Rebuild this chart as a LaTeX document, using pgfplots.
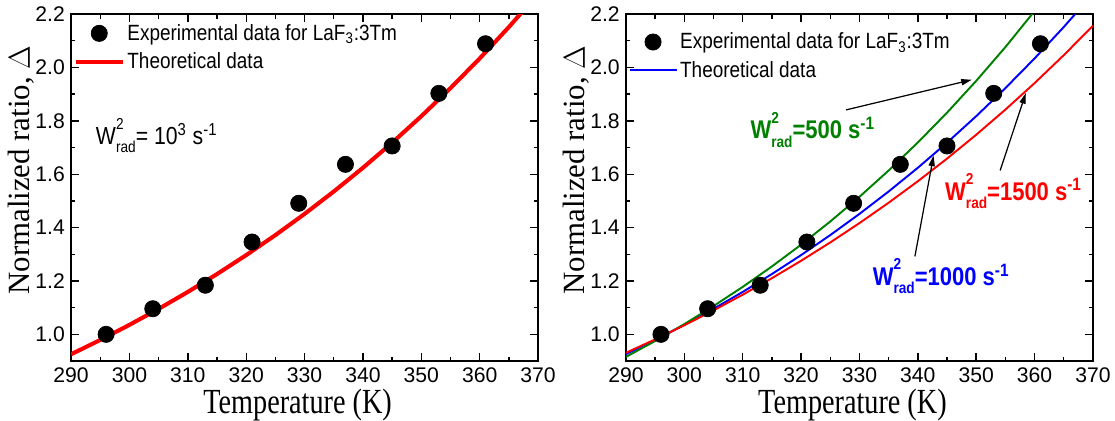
\documentclass[border=0pt]{standalone}
\usepackage{fontspec}
\setmainfont{Liberation Sans}
\newfontfamily\serif{Liberation Serif}
\newfontfamily\cond[FakeStretch=0.86]{Liberation Sans}
\usepackage{graphicx}
\usepackage{pgfplots}
\pgfplotsset{compat=1.18}
\usetikzlibrary{arrows.meta}
\definecolor{cred}{RGB}{255,0,0}
\definecolor{cblue}{RGB}{0,0,255}
\definecolor{cgreen}{RGB}{0,128,0}

% W^2_rad with stacked indices
\newcommand\wrad{W\rlap{\raisebox{0.62em}{\fontsize{9}{9}\selectfont 2}}\raisebox{-0.32em}{\fontsize{9}{9}\selectfont rad}}

\pgfplotstableread{
T    D
296  1.000
304  1.096
313  1.184
321  1.346
329  1.491
337  1.637
345  1.706
353  1.903
361  2.089
}\expdata

% W = 1000 s^-1
\pgfplotstableread{
T    D
290  0.9254
295  0.9789
300  1.0356
305  1.0955
310  1.1589
315  1.2259
320  1.2969
325  1.3719
330  1.4513
335  1.5353
340  1.6241
345  1.7181
350  1.8175
355  1.9227
360  2.0339
365  2.1516
370  2.2760
}\thoneK

% W = 500 s^-1
\pgfplotstableread{
T    D
290  0.9154
295  0.9750
300  1.0383
305  1.1059
310  1.1778
315  1.2544
320  1.3359
325  1.4228
330  1.5153
335  1.6139
340  1.7188
345  1.8306
350  1.9497
355  2.0764
360  2.2115
362  2.2679
}\thfive

% W = 1500 s^-1
\pgfplotstableread{
T    D
290  0.9309
295  0.9811
300  1.0340
305  1.0897
310  1.1485
315  1.2104
320  1.2756
325  1.3444
330  1.4168
335  1.4932
340  1.5737
345  1.6585
350  1.7479
355  1.8421
360  1.9414
365  2.0461
370  2.1564
}\thfifteen

\tikzset{anno/.style={font=\cond\bfseries\fontsize{14.5}{16}\selectfont}}

\pgfplotsset{
  panel/.style={
    scale only axis, width=264.8pt, height=196.7pt,
    xmin=290, xmax=370, ymin=0.9, ymax=2.2,
    xtick={290,300,310,320,330,340,350,360,370}, minor x tick num=1,
    ytick={1.0,1.2,1.4,1.6,1.8,2.0,2.2}, minor y tick num=1,
    tick align=inside, major tick length=4.5pt, minor tick length=2.5pt,
    axis line style={line width=0.9pt},
    every tick/.style={black, line width=0.8pt},
    tick label style={font=\fontsize{12}{14}\selectfont},
    yticklabel style={/pgf/number format/.cd, fixed, fixed zerofill, precision=1},
    /pgf/number format/assume math mode=true,
    xlabel={\scalebox{0.8}[1]{Temperature (K)}},
    ylabel={Normalized ratio, $\Delta$},
    label style={font=\serif\fontsize{20}{22}\selectfont},
    xlabel style={at={(axis description cs:0.485,-0.152)}, anchor=base,
      inner sep=0pt},
    ylabel style={at={(axis description cs:-0.106,0.55)}, anchor=center,
      font=\serif\fontsize{17.5}{20}\selectfont},
    legend style={draw=none, fill=none, anchor=north west, inner sep=0pt,
      font=\cond\fontsize{12.5}{13}\selectfont, row sep=2.5pt,
      nodes={inner sep=1.5pt}},
    legend cell align=left,
    clip=true,
  },
  dots/.style={only marks, mark=*, mark size=4.6pt, black,
    legend image code/.code={\draw[##1] plot coordinates {(13.3pt,0pt)};}},
  lineleg/.style={legend image code/.code={\draw[##1] (0pt,0pt) -- (26.6pt,0pt);}},
}

\begin{document}
\begin{tikzpicture}
\path[use as bounding box] (0,0) rectangle (632.2pt,238.7pt);

% left panel
\begin{axis}[panel, at={(40.3pt,34pt)}, anchor=south west,
  legend style={at={(axis description cs:0.005,0.98)}}]
\addplot[dots] table[x=T, y=D] {\expdata};
\addlegendentry{Experimental data for LaF\textsubscript{3}:3Tm}
\addplot[cred, line width=2.3pt, lineleg] table[x=T, y=D] {\thoneK};
\addlegendentry{Theoretical data}
\node[anchor=west, font=\cond\fontsize{14}{15}\selectfont] at (axis cs:293.2,1.745)
  {\wrad= 10\textsuperscript{3} s\textsuperscript{-1}};
\end{axis}

% right panel
\begin{axis}[panel, at={(354.9pt,34pt)}, anchor=south west,
  legend style={at={(axis description cs:0.005,0.955)}}]
\addplot[dots] table[x=T, y=D] {\expdata};
\addlegendentry{Experimental data for LaF\textsubscript{3}:3Tm}
\addplot[cblue, line width=1.1pt, lineleg] table[x=T, y=D] {\thoneK};
\addlegendentry{Theoretical data}
\addplot[cgreen, line width=1.1pt, forget plot] table[x=T, y=D] {\thfive};
\addplot[cred, line width=1.1pt, forget plot] table[x=T, y=D] {\thfifteen};

\begin{scope}[-{Triangle[length=6pt,width=3.5pt]}, line width=0.7pt]
\draw (axis cs:327.7,1.841) -- (axis cs:349.25,1.954);
\draw (axis cs:354.1,1.614) -- (axis cs:358.5,1.904);
\draw (axis cs:339.5,1.292) -- (axis cs:342.7,1.670);
\end{scope}
\node[text=cgreen, anno] at (axis cs:322.0,1.767)
  {\wrad=500 s\textsuperscript{-1}};
\node[text=cred, anno] at (axis cs:356.4,1.538)
  {\wrad=1500 s\textsuperscript{-1}};
\node[text=cblue, anno] at (axis cs:344.0,1.217)
  {\wrad=1000 s\textsuperscript{-1}};
\end{axis}
\end{tikzpicture}
\end{document}
